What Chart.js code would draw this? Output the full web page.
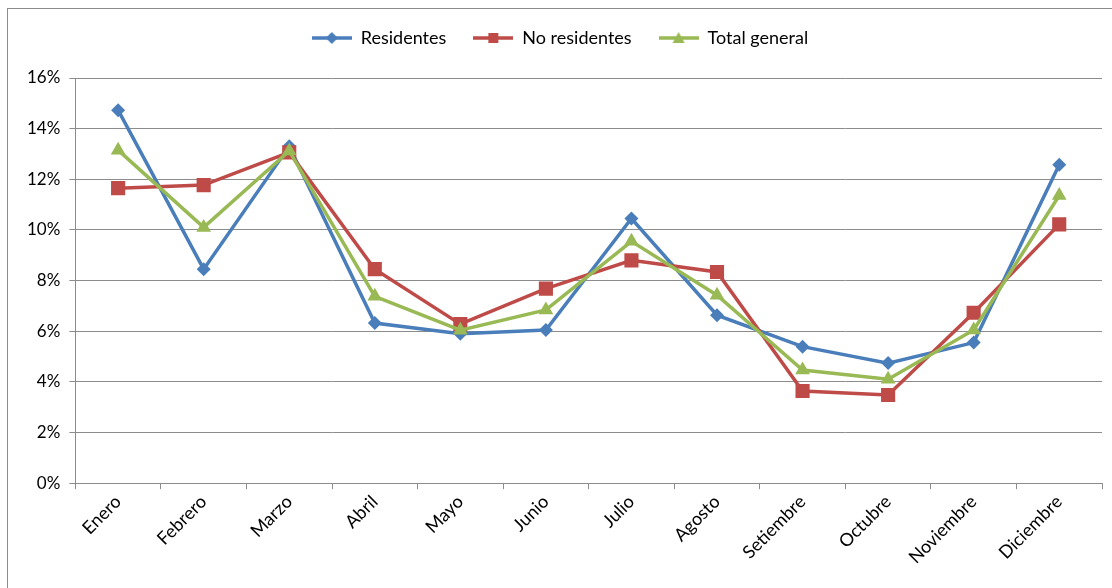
<!DOCTYPE html>
<html>
<head>
<meta charset="utf-8">
<script src="https://cdn.jsdelivr.net/npm/chart.js@4"></script>
<style>
  html, body { margin: 0; padding: 0; background: #fff; overflow: hidden; }
  #marco { position: absolute; left: 7px; top: 8px; width: 1200px; height: 700px; border: 1px solid #8c8c8c; }
  #caja { position: absolute; left: 0; top: 0; width: 1112px; height: 588px; }
</style>
</head>
<body>
<div id="marco"></div>
<div id="caja"><canvas id="grafico"></canvas></div>
<script>
// meses y porcentajes
const meses = ['Enero', 'Febrero', 'Marzo', 'Abril', 'Mayo', 'Junio', 'Julio', 'Agosto', 'Setiembre', 'Octubre', 'Noviembre', 'Diciembre'];
const residentes = [14.73, 8.45, 13.3, 6.32, 5.9, 6.05, 10.45, 6.63, 5.39, 4.74, 5.55, 12.57];
const noResidentes = [11.65, 11.77, 13.06, 8.45, 6.28, 7.68, 8.8, 8.34, 3.64, 3.48, 6.73, 10.22];
const totalGeneral = [13.15, 10.1, 13.12, 7.38, 6.04, 6.84, 9.55, 7.42, 4.47, 4.1, 6.05, 11.36];
const ticksY = [0, 2, 4, 6, 8, 10, 12, 14, 16];

const fuente = 'Lato, "Liberation Sans", sans-serif';

// icono de leyenda: linea con marcador al centro
function iconoLeyenda(color, estilo) {
  const c = document.createElement('canvas');
  c.width = 40; c.height = 14;
  const ctx = c.getContext('2d');
  ctx.strokeStyle = color;
  ctx.fillStyle = color;
  ctx.lineWidth = 3.5;
  ctx.beginPath();
  ctx.moveTo(0, 7); ctx.lineTo(40, 7);
  ctx.stroke();
  ctx.beginPath();
  if (estilo === 'rectRot') {
    ctx.moveTo(20, 1); ctx.lineTo(26, 7); ctx.lineTo(20, 13); ctx.lineTo(14, 7);
  } else if (estilo === 'rect') {
    ctx.rect(15, 2, 10, 10);
  } else {
    ctx.moveTo(20, 1); ctx.lineTo(26, 12); ctx.lineTo(14, 12);
  }
  ctx.closePath();
  ctx.fill();
  return c;
}

const series = [
  { label: 'Residentes', data: residentes, color: '#4A7EBB', estilo: 'rectRot', radio: 7, orden: 3 },
  { label: 'No residentes', data: noResidentes, color: '#BE4B48', estilo: 'rect', radio: 10, orden: 2 },
  { label: 'Total general', data: totalGeneral, color: '#98B954', estilo: 'triangle', radio: 8.5, orden: 1 }
];

const datasets = series.map(s => ({
  label: s.label,
  data: s.data,
  borderColor: s.color,
  backgroundColor: s.color,
  borderWidth: 3.5,
  tension: 0,
  pointStyle: s.estilo,
  pointRadius: s.radio,
  pointBorderWidth: 0,
  pointBackgroundColor: s.color,
  order: s.orden,
  icono: iconoLeyenda(s.color, s.estilo)
}));

// deja mas aire entre la leyenda y el area del grafico
const margenLeyenda = {
  id: 'margenLeyenda',
  beforeInit(chart) {
    const fitOriginal = chart.legend.fit;
    chart.legend.fit = function () {
      fitOriginal.bind(chart.legend)();
      this.height += 21;
    };
  }
};

new Chart(document.getElementById('grafico'), {
  type: 'line',
  data: { labels: meses, datasets: datasets },
  plugins: [margenLeyenda],
  options: {
    responsive: true,
    maintainAspectRatio: false,
    animation: false,
    layout: { padding: { left: 18, right: 10, top: 2, bottom: 18 } },
    plugins: {
      tooltip: { enabled: false },
      legend: {
        position: 'top',
        align: 'center',
        labels: {
          usePointStyle: true,
          pointStyleWidth: 40,
          padding: 27,
          color: '#000',
          font: { family: fuente, size: 18 },
          generateLabels: (chart) => chart.data.datasets.map((d, i) => ({
            text: d.label,
            pointStyle: d.icono,
            fillStyle: d.borderColor,
            strokeStyle: d.borderColor,
            lineWidth: 0,
            datasetIndex: i,
            fontColor: '#000'
          }))
        }
      }
    },
    scales: {
      x: {
        offset: true,
        grid: { display: true, drawOnChartArea: false, offset: true, tickLength: 6, color: '#8c8c8c' },
        border: { display: true, color: '#8c8c8c', width: 1 },
        ticks: { color: '#000', font: { family: fuente, size: 18 }, minRotation: 45, maxRotation: 45, padding: 2 }
      },
      y: {
        min: 0,
        max: 16,
        afterBuildTicks: (eje) => { eje.ticks = ticksY.map(v => ({ value: v })); },
        grid: { color: '#8c8c8c', lineWidth: 1, tickLength: 6 },
        border: { display: true, color: '#8c8c8c', width: 1 },
        ticks: { color: '#000', font: { family: fuente, size: 17 }, padding: 9, callback: (v) => v + '%' }
      }
    }
  }
});
</script>
</body>
</html>
